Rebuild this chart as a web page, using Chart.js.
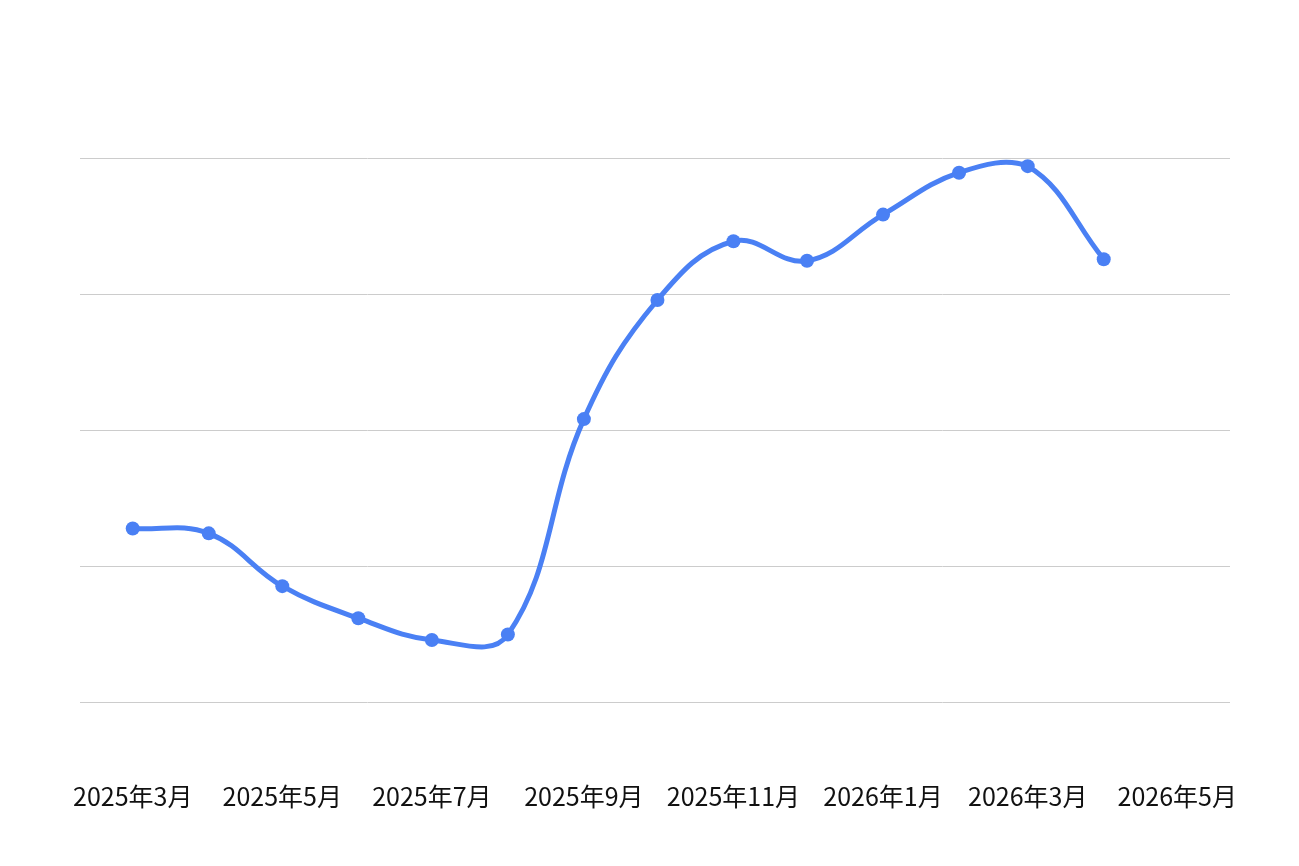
<!DOCTYPE html>
<html>
<head>
<meta charset="utf-8">
<script src="https://cdn.jsdelivr.net/npm/chart.js@4.4.1/dist/chart.umd.min.js"></script>
<style>
  html, body { margin: 0; padding: 0; background: #ffffff; }
  #wrap { width: 1299px; height: 866px; position: relative; }
</style>
</head>
<body>
<div id="wrap"><canvas id="c"></canvas></div>
<script>
// Data (months are month-start dates)
const months = ['2025-03','2025-04','2025-05','2025-06','2025-07','2025-08','2025-09',
                '2025-10','2025-11','2025-12','2026-01','2026-02','2026-03','2026-04'];
const values = [31.9, 31.0, 21.3, 15.4, 11.4, 12.4, 52.0, 73.9, 84.7, 81.1, 89.6, 97.3, 98.5, 81.4];
const tickMonths = ['2025-03','2025-05','2025-07','2025-09','2025-11','2026-01','2026-03','2026-05'];

function dayOf(ym) {
  const [y, m] = ym.split('-').map(Number);
  return Date.UTC(y, m - 1, 1) / 86400000;
}
function labelOf(day) {
  const d = new Date(day * 86400000);
  return d.getUTCFullYear() + '年' + (d.getUTCMonth() + 1) + '月';
}

const points = months.map((m, i) => ({ x: dayOf(m), y: values[i] }));
const tickDays = tickMonths.map(dayOf);
const FONT = '"Noto Sans CJK SC", "Noto Sans", sans-serif';
const BLUE = '#4a80f4';

new Chart(document.getElementById('c'), {
  type: 'line',
  data: {
    datasets: [{
      data: points,
      borderColor: BLUE,
      backgroundColor: BLUE,
      borderWidth: 5,
      pointRadius: 7,
      pointHoverRadius: 7,
      pointBackgroundColor: BLUE,
      pointBorderWidth: 0,
      tension: 0.4,
      fill: false
    }]
  },
  options: {
    responsive: true,
    maintainAspectRatio: false,
    animation: false,
    devicePixelRatio: 1,
    layout: { padding: { top: 158, left: 80, right: 69, bottom: 54 } },
    plugins: { legend: { display: false }, tooltip: { enabled: false }, title: { display: false } },
    scales: {
      x: {
        type: 'linear',
        min: tickDays[0] - 21.5,
        max: tickDays[tickDays.length - 1] + 21.5,
        afterBuildTicks: (scale) => { scale.ticks = tickDays.map(v => ({ value: v })); },
        afterFit: (scale) => { scale.height = 110; scale.paddingLeft = 0; scale.paddingRight = 0; },
        grid: { display: false, drawTicks: false },
        border: { display: false },
        ticks: {
          autoSkip: false,
          maxRotation: 0,
          padding: 79,
          color: '#111111',
          font: { family: FONT, size: 25 },
          callback: (v) => labelOf(v)
        }
      },
      y: {
        min: 0,
        max: 100,
        afterBuildTicks: (scale) => { scale.ticks = [0, 25, 50, 75, 100].map(v => ({ value: v })); },
        grid: { color: '#cccccc', lineWidth: 1, drawTicks: false },
        border: { display: false },
        ticks: { display: false }
      }
    }
  }
});
</script>
</body>
</html>
